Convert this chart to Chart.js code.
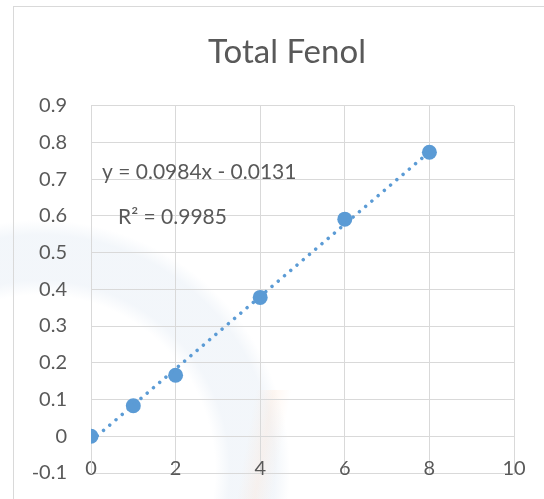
<!DOCTYPE html>
<html>
<head>
<meta charset="utf-8">
<script src="https://cdn.jsdelivr.net/npm/chart.js@4.4.1/dist/chart.umd.min.js"></script>
<style>
  html, body { margin: 0; padding: 0; background: #ffffff; }
  #wrap { position: relative; width: 544px; height: 499px; overflow: hidden; background: #ffffff; }
  #frame { position: absolute; left: 13px; top: 6px; width: 600px; height: 600px;
           border-left: 1px solid #d9d9d9; border-top: 1px solid #d9d9d9; box-sizing: border-box; }
  #wm { position: absolute; left: 0; top: 0; width: 544px; height: 499px;
        background:
          radial-gradient(circle at 40px 470px, rgba(255,255,255,0) 0px, rgba(255,255,255,0) 175px, rgba(228,236,245,0.45) 190px, rgba(228,236,245,0.45) 235px, rgba(255,255,255,0) 250px); }
  #wm2 { position: absolute; left: 245px; top: 390px; width: 36px; height: 120px;
         background: linear-gradient(to right, rgba(255,225,205,0), rgba(255,222,200,0.25), rgba(255,225,205,0)); transform: skewX(-10deg); }
  canvas { position: absolute; left: 0; top: 0; }
</style>
</head>
<body>
<div id="wrap">
  <div id="wm"></div>
  <div id="wm2"></div>
  <div id="frame"></div>
  <canvas id="c" width="544" height="499"></canvas>
</div>
<script>
const titleText = "Total Fenol";
const xValues = [0, 1, 2, 4, 6, 8];
const yValues = [0, 0.083, 0.166, 0.378, 0.591, 0.773];
const trendX = [0, 8];
const trendY = [-0.0131, 0.7741];
const equationText = "y = 0.0984x - 0.0131";
const r2Text = "R² = 0.9985";
const xTicks = [0, 2, 4, 6, 8, 10];
const yTicks = [-0.1, 0, 0.1, 0.2, 0.3, 0.4, 0.5, 0.6, 0.7, 0.8, 0.9];

const FONT = "Lato, 'Open Sans', sans-serif";
const TXT = "#595959";
const GRID = "#d9d9d9";
const BLUE = "#5b9bd5";

const textPlugin = {
  id: 'eqText',
  afterDatasetsDraw(chart) {
    const ctx = chart.ctx;
    ctx.save();
    ctx.fillStyle = TXT;
    ctx.font = "21px " + FONT;
    ctx.textAlign = 'left';
    ctx.textBaseline = 'middle';
    ctx.fillText(equationText, 102, 172);
    ctx.fillText(r2Text, 118, 217);
    ctx.restore();
  }
};

new Chart(document.getElementById('c'), {
  type: 'scatter',
  data: {
    datasets: [
      {
        label: 'Trend',
        type: 'line',
        data: trendX.map((x, i) => ({ x: x, y: trendY[i] })),
        borderColor: BLUE,
        borderWidth: 3.5,
        borderDash: [0.01, 8.2],
        borderCapStyle: 'round',
        pointRadius: 0,
        fill: false,
        order: 0
      },
      {
        label: 'Data',
        data: xValues.map((x, i) => ({ x: x, y: yValues[i] })),
        backgroundColor: BLUE,
        borderColor: BLUE,
        borderWidth: 0,
        pointRadius: 7.5,
        pointHoverRadius: 7.5,
        order: 1
      }
    ]
  },
  options: {
    responsive: false,
    animation: false,
    events: [],
    layout: { padding: { left: 30, right: 0, top: 0, bottom: 0 } },
    plugins: {
      legend: { display: false },
      tooltip: { enabled: false },
      title: {
        display: true,
        text: titleText,
        color: TXT,
        font: { family: FONT, size: 33, weight: 'normal' },
        padding: { top: 33, bottom: 33 }
      }
    },
    scales: {
      x: {
        type: 'linear',
        position: 'bottom',
        min: 0, max: 10,
        afterBuildTicks(scale) { scale.ticks = xTicks.map(v => ({ value: v })); },
        afterFit(scale) { scale.height = 26; },
        ticks: {
          color: TXT,
          font: { family: FONT, size: 20 },
          mirror: true,
          padding: -8,
          maxRotation: 0,
          callback: v => String(v)
        },
        grid: { color: GRID, lineWidth: 1, drawTicks: false },
        border: { display: true, color: GRID, width: 1 }
      },
      y: {
        type: 'linear',
        position: 'left',
        min: -0.1, max: 0.9,
        afterBuildTicks(scale) { scale.ticks = yTicks.map(v => ({ value: v })); },
        afterFit(scale) { scale.width = 61; scale.paddingTop = 12; scale.paddingBottom = 12; },
        ticks: {
          color: TXT,
          font: { family: FONT, size: 20 },
          padding: 24,
          callback: v => String(Math.round(v * 10) / 10)
        },
        grid: { color: GRID, lineWidth: 1, drawTicks: false },
        border: { display: true, color: GRID, width: 1 }
      },
      yRight: {
        type: 'linear',
        position: 'right',
        min: -0.1, max: 0.9,
        afterFit(scale) { scale.width = 30; scale.paddingTop = 0; scale.paddingBottom = 0; },
        ticks: { display: false },
        grid: { display: false, drawTicks: false },
        border: { display: false }
      }
    }
  },
  plugins: [textPlugin]
});
</script>
</body>
</html>
